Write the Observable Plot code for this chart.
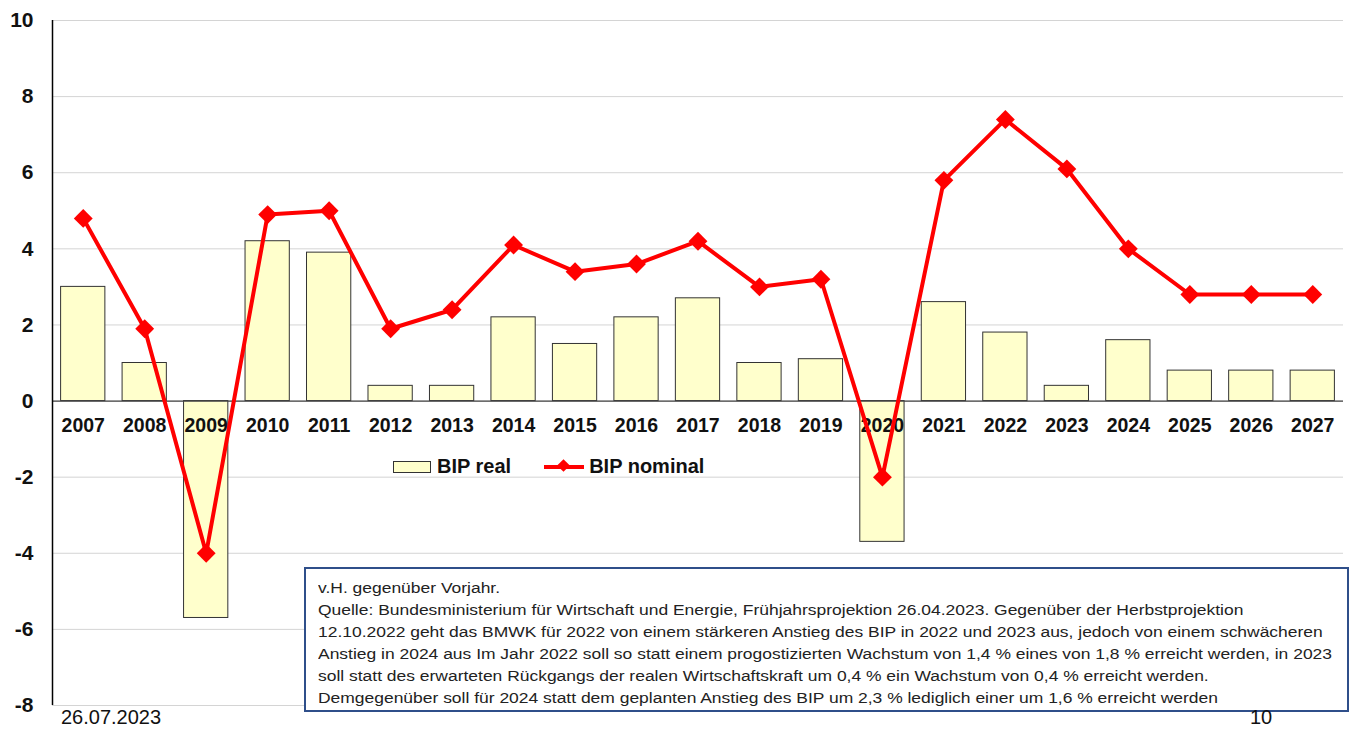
<!DOCTYPE html>
<html>
<head>
<meta charset="utf-8">
<script src="https://cdn.jsdelivr.net/npm/d3@7"></script>
<script src="https://cdn.jsdelivr.net/npm/@observablehq/plot@0.6"></script>
<style>
  html, body { margin: 0; padding: 0; background: #fff; overflow: hidden; }
  #wrap { position: relative; width: 1351px; height: 729px; font-family: "Liberation Sans", Arial, sans-serif; }
  #chart svg { display: block; }
  .legend { position: absolute; top: 455px; left: 393px; display: flex; align-items: center; font-weight: bold; font-size: 20px; color: #111; }
  .sw-bar { width: 36px; height: 10px; background: #ffffcc; border: 1px solid #333; margin-right: 6px; }
  .sw-line { position: relative; width: 40px; height: 4px; background: #ff0000; margin-left: 33px; margin-right: 5px; }
  .sw-line::after { content: ""; position: absolute; left: 15px; top: -4px; width: 9px; height: 9px; background: #ff0000; transform: rotate(45deg); }
  #note { position: absolute; left: 304px; top: 567px; width: 1045px; height: 145px; border: 2px solid #2f4f8a; box-sizing: border-box; background: #fff; overflow: hidden; }
  #note .inner { position: absolute; left: 12px; top: 8px; transform-origin: 0 0; font-family: "Liberation Sans", sans-serif; font-size: 15.5px; color: #222; line-height: 22px; white-space: nowrap; }
  .foot { position: absolute; font-size: 20px; color: #111; }
</style>
</head>
<body>
<div id="wrap">
  <div id="chart"></div>
</div>
<script>
const years = ["2007","2008","2009","2010","2011","2012","2013","2014","2015","2016","2017","2018","2019","2020","2021","2022","2023","2024","2025","2026","2027"];
const bipReal = [3.0, 1.0, -5.7, 4.2, 3.9, 0.4, 0.4, 2.2, 1.5, 2.2, 2.7, 1.0, 1.1, -3.7, 2.6, 1.8, 0.4, 1.6, 0.8, 0.8, 0.8];
const bipNominal = [4.8, 1.9, -4.0, 4.9, 5.0, 1.9, 2.4, 4.1, 3.4, 3.6, 4.2, 3.0, 3.2, -2.0, 5.8, 7.4, 6.1, 4.0, 2.8, 2.8, 2.8];
const yTicks = [-8, -6, -4, -2, 0, 2, 4, 6, 8, 10];
const seriesNames = ["BIP real", "BIP nominal"];
const noteLines = [
  "v.H. gegenüber Vorjahr.",
  "Quelle: Bundesministerium für Wirtschaft und Energie, Frühjahrsprojektion 26.04.2023. Gegenüber der Herbstprojektion",
  "12.10.2022 geht das BMWK für 2022 von einem stärkeren Anstieg des BIP in 2022 und 2023 aus, jedoch von einem schwächeren",
  "Anstieg in 2024 aus Im Jahr 2022 soll so statt einem progostizierten Wachstum von 1,4 % eines von 1,8 % erreicht werden, in 2023",
  "soll statt des erwarteten Rückgangs der realen Wirtschaftskraft um 0,4 % ein Wachstum von 0,4 % erreicht werden.",
  "Demgegenüber soll für 2024 statt dem geplanten Anstieg des BIP um 2,3 % lediglich einer um 1,6 % erreicht werden"
];
const dateLabel = "26.07.2023";
const pageLabel = "10";

const data = years.map((y, i) => ({year: y, real: bipReal[i], nominal: bipNominal[i]}));

const W = 1351, ML = 52, MR = 8;
const step = (W - ML - MR) / years.length;

const chart = Plot.plot({
  width: W,
  height: 729,
  marginLeft: ML,
  marginRight: MR,
  marginTop: 20,
  marginBottom: 24,
  style: {fontFamily: "'Liberation Sans', Arial, sans-serif", background: "#fff", color: "#111"},
  x: {type: "band", domain: years, paddingInner: 0.28, paddingOuter: 0.14, round: false, axis: null},
  y: {domain: [-8, 10], axis: null},
  marks: [
    Plot.gridY(yTicks, {stroke: "#d4d4d4", strokeOpacity: 1, strokeWidth: 1}),
    Plot.barY(data, {x: "year", y: "real", fill: "#ffffcc", stroke: "#333", strokeWidth: 1}),
    Plot.ruleY([0], {stroke: "#444", strokeWidth: 1.2}),
    Plot.ruleX([years[0]], {x: () => years[0], dx: -step / 2, stroke: "#000", strokeWidth: 1.5, y1: -8, y2: 10}),
    Plot.axisY(yTicks, {tickSize: 0, tickPadding: 19, fontSize: 21, fontWeight: "bold", label: null, anchor: "left", tickFormat: d => String(d)}),
    Plot.text(data, {x: "year", y: () => 0, text: "year", dy: 25, fontSize: 19.5, fontWeight: "bold", fill: "#111"}),
    Plot.line(data, {x: "year", y: "nominal", stroke: "#ff0000", strokeWidth: 4, strokeLinejoin: "round"}),
    Plot.dot(data, {x: "year", y: "nominal", symbol: "diamond2", r: 8.5, fill: "#ff0000", stroke: "none"})
  ]
});
document.getElementById("chart").appendChild(chart);

const wrap = document.getElementById("wrap");
const lg = document.createElement("div");
lg.className = "legend";
lg.innerHTML = `<div class="sw-bar"></div><span>${seriesNames[0]}</span><div class="sw-line"></div><span>${seriesNames[1]}</span>`;
wrap.appendChild(lg);

const note = document.createElement("div");
note.id = "note";
const inner = document.createElement("div");
inner.className = "inner";
noteLines.forEach(t => { const d = document.createElement("div"); d.textContent = t; inner.appendChild(d); });
note.appendChild(inner);
wrap.appendChild(note);
const targetW = 1014;
const w = Math.max(...Array.from(inner.children).map(c => c.getBoundingClientRect().width));
inner.style.transform = `scaleX(${targetW / w})`;

const d1 = document.createElement("div");
d1.className = "foot"; d1.style.left = "61px"; d1.style.top = "706px"; d1.textContent = dateLabel;
wrap.appendChild(d1);
const d2 = document.createElement("div");
d2.className = "foot"; d2.style.left = "1250px"; d2.style.top = "706px"; d2.textContent = pageLabel;
wrap.appendChild(d2);
</script>
</body>
</html>
